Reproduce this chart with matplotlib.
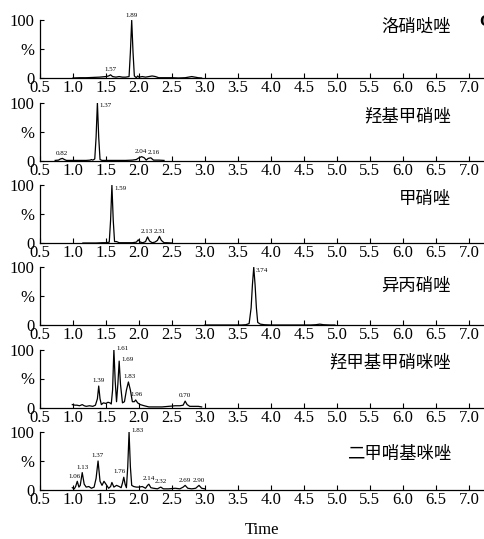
import matplotlib
matplotlib.use("Agg")
import matplotlib.pyplot as plt

# retention time (min) / relative intensity (%)
names = ["洛硝哒唑", "羟基甲硝唑", "甲硝唑", "异丙硝唑", "羟甲基甲硝咪唑", "二甲哨基咪唑"]

t1 = [1.00, 1.10, 1.20, 1.30, 1.40, 1.50, 1.54, 1.57, 1.60, 1.65, 1.70, 1.75, 1.80, 1.85, 1.87,
      1.89, 1.91, 1.93, 1.96, 1.98, 2.00, 2.05, 2.10, 2.15, 2.20, 2.25, 2.30, 2.40, 2.50, 2.60,
      2.70, 2.75, 2.80, 2.85, 2.90, 2.95]
y1 = [0.5, 1, 1, 1.5, 2, 3, 4, 6, 3, 2, 3, 2, 2, 3, 45, 100, 45, 4, 1, 4, 2, 3, 2, 3, 4, 3, 1, 1,
      1, 0.5, 1, 2, 3, 2, 1, 0.5]

t2 = [0.73, 0.78, 0.81, 0.84, 0.87, 0.90, 1.00, 1.10, 1.20, 1.26, 1.28, 1.30, 1.33, 1.35, 1.37,
      1.39, 1.41, 1.44, 1.50, 1.60, 1.70, 1.80, 1.90, 1.96, 2.00, 2.04, 2.08, 2.11, 2.14, 2.18,
      2.22, 2.26, 2.30, 2.38]
y2 = [0.5, 1, 3, 4, 2, 0.5, 0.5, 0.5, 0.5, 1, 2, 1, 3, 40, 100, 40, 2, 0.5, 0.5, 0.5, 0.5, 0.5,
      1, 2, 5, 7, 5, 1, 4, 5, 1, 1, 1, 0.5]

t3 = [1.15, 1.25, 1.35, 1.45, 1.50, 1.55, 1.57, 1.59, 1.61, 1.63, 1.66, 1.70, 1.80, 1.90, 1.96,
      1.99, 2.02, 2.06, 2.10, 2.13, 2.16, 2.20, 2.24, 2.28, 2.31, 2.34, 2.38, 2.42, 2.50]
y3 = [0.5, 0.5, 0.5, 1, 1, 2, 40, 100, 40, 3, 3, 1, 1, 1, 2, 6, 2, 1, 3, 11, 4, 1, 2, 5, 12, 5,
      1, 1, 0.5]

t4 = [3.00, 3.20, 3.40, 3.55, 3.62, 3.67, 3.70, 3.72, 3.74, 3.76, 3.78, 3.80, 3.84, 3.90, 4.00,
      4.20, 4.40, 4.60, 4.68, 4.74, 4.80, 4.90, 4.97]
y4 = [0.5, 0.5, 0.5, 0.5, 1, 3, 30, 70, 100, 70, 30, 5, 2, 1, 0.5, 0.5, 0.5, 0.5, 1, 2, 1, 0.5,
      0.5]

t5 = [0.99, 1.03, 1.06, 1.10, 1.14, 1.17, 1.20, 1.25, 1.30, 1.34, 1.37, 1.39, 1.41, 1.43, 1.46,
      1.50, 1.53, 1.56, 1.58, 1.60, 1.62, 1.64, 1.66, 1.68, 1.70, 1.72, 1.75, 1.78, 1.81, 1.84,
      1.87, 1.90, 1.93, 1.95, 1.98, 2.02, 2.08, 2.15, 2.25, 2.35, 2.45, 2.55, 2.62, 2.67, 2.70,
      2.73, 2.77, 2.82, 2.90, 2.95]
y5 = [5, 4, 4, 3, 5, 3, 2, 3, 2, 4, 15, 37, 15, 5, 8, 7, 9, 8, 6, 30, 100, 45, 10, 40, 80, 40, 8,
      10, 30, 44, 30, 10, 10, 13, 8, 5, 3, 1, 1, 1, 2, 3, 3, 4, 11, 5, 2, 2, 2, 1]

t6 = [0.99, 1.02, 1.04, 1.065, 1.09, 1.11, 1.14, 1.17, 1.20, 1.24, 1.28, 1.32, 1.35, 1.38, 1.41,
      1.44, 1.47, 1.50, 1.54, 1.57, 1.59, 1.62, 1.66, 1.70, 1.73, 1.75, 1.77, 1.79, 1.81, 1.83,
      1.85, 1.87, 1.89, 1.92, 1.96, 2.00, 2.05, 2.10, 2.13, 2.15, 2.18, 2.22, 2.28, 2.33, 2.37,
      2.45, 2.55, 2.62, 2.67, 2.70, 2.74, 2.80, 2.86, 2.91, 2.95, 3.00]
y6 = [4, 2, 6, 15, 5, 8, 30, 10, 5, 6, 3, 5, 20, 50, 15, 8, 15, 10, 3, 6, 13, 5, 8, 6, 4, 12, 22,
      10, 4, 40, 100, 40, 8, 6, 5, 5, 6, 3, 8, 10, 4, 3, 2, 5, 2, 2, 3, 2, 5, 8, 3, 2, 3, 8, 3, 2]

# peak labels: text, time, height
peaks1 = [("1.57", 1.57, 6), ("1.89", 1.89, 100)]
peaks2 = [("0.82", 0.83, 4), ("1.37", 1.37, 100), ("2.04", 2.03, 7), ("2.16", 2.22, 5)]
peaks3 = [("1.59", 1.59, 100), ("2.13", 2.12, 11), ("2.31", 2.32, 12)]
peaks4 = [("3.74", 3.74, 100)]
peaks5 = [("1.39", 1.39, 37), ("1.61", 1.62, 100), ("1.69", 1.70, 80), ("1.83", 1.85, 44),
          ("1.96", 1.97, 13), ("0.70", 2.70, 11)]
peaks6 = [("1.06", 1.02, 15), ("1.13", 1.14, 30), ("1.37", 1.38, 50), ("1.76", 1.71, 22),
          ("1.83", 1.85, 100), ("2.14", 2.15, 10), ("2.32", 2.33, 5), ("2.69", 2.70, 8),
          ("2.90", 2.91, 8)]

x_ticks = [0.5, 1.0, 1.5, 2.0, 2.5, 3.0, 3.5, 4.0, 4.5, 5.0, 5.5, 6.0, 6.5, 7.0]

traces = [(t1, y1), (t2, y2), (t3, y3), (t4, y4), (t5, y5), (t6, y6)]
peaks = [peaks1, peaks2, peaks3, peaks4, peaks5, peaks6]

SERIF = "Liberation Serif"
CJK = "Noto Sans CJK SC"

W, H = 484, 539
fig = plt.figure(figsize=(W / 100, H / 100), dpi=100)

left_px = 40
base_px = [78.3, 160.7, 243.3, 325.3, 407.5, 490.0]
height_px = 58
name_y = [0.88, 0.76, 0.76, 0.68, 0.78, 0.62]

for i, (t, y) in enumerate(traces):
    ax = fig.add_axes([left_px / W, 1 - base_px[i] / H, 1 - left_px / W, height_px / H])
    ax.plot(t, y, color="black", lw=0.9)
    ax.set_xlim(0.5, 7.23)
    ax.set_ylim(0, 100)
    for s in ["top", "right"]:
        ax.spines[s].set_visible(False)
    for s in ["left", "bottom"]:
        ax.spines[s].set_linewidth(0.9)
    ax.set_xticks(x_ticks)
    ax.set_xticklabels([f"{v:.1f}" for v in x_ticks], fontfamily=SERIF, fontsize=12)
    ax.set_yticks([0, 50, 100])
    ax.set_yticklabels(["0", "%", "100"], fontfamily=SERIF, fontsize=12)
    ax.tick_params(axis="x", direction="in", length=3.5, width=0.8, pad=1.5)
    ax.tick_params(axis="y", direction="in", length=3, width=0.8, pad=4)

    for lab, px, ph in peaks[i]:
        if ph >= 75 and not (i == 0):
            ax.annotate(lab, (px, min(ph, 100)), xytext=(1.5, -2 if i < 4 else 1),
                        textcoords="offset points", ha="left", va="center",
                        fontfamily=SERIF, fontsize=5, annotation_clip=False)
        else:
            ax.annotate(lab, (px, ph), xytext=(0, 2), textcoords="offset points",
                        ha="center", va="bottom", fontfamily=SERIF, fontsize=5,
                        annotation_clip=False)

    ax.text(6.73, name_y[i], names[i], transform=ax.get_xaxis_transform(),
            ha="right", va="center", fontfamily=CJK, fontsize=12.5)

    if i == len(traces) - 1:
        ax.set_xlabel("Time", fontfamily=SERIF, fontsize=12, labelpad=10)

fig.text(479 / W, 1 - 22 / H, "C", fontfamily=SERIF, fontsize=12, fontweight="bold",
         ha="left", va="center")

fig.savefig("out.png", dpi=100)
